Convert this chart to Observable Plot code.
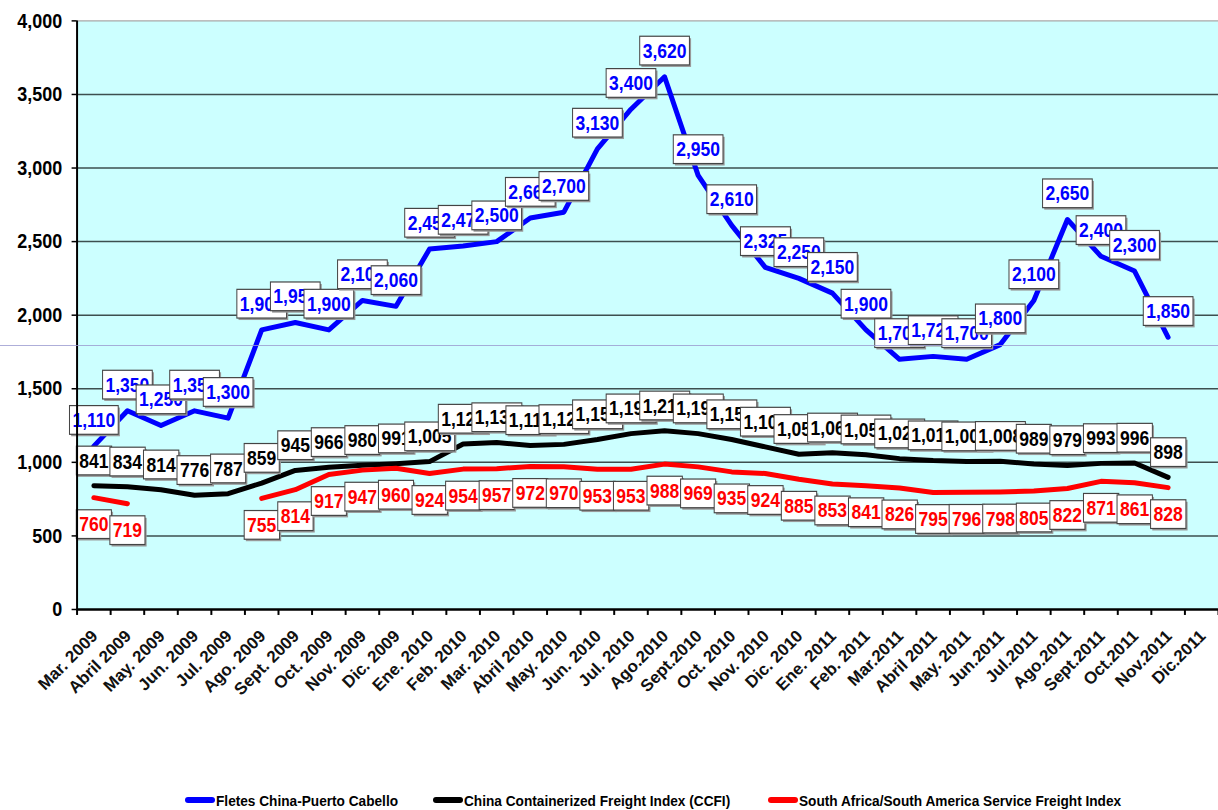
<!DOCTYPE html>
<html><head><meta charset="utf-8">
<script src="https://cdn.jsdelivr.net/npm/d3@7"></script>
<script src="https://cdn.jsdelivr.net/npm/@observablehq/plot@0.6"></script>
<style>
html,body{margin:0;padding:0;background:#fff;overflow:hidden;width:1218px;height:810px}
#wrap{position:relative;width:1218px;height:810px;overflow:hidden}
#chart svg{display:block}
#legend{position:absolute;left:0;top:788px;width:1218px;height:24px;font-family:"Liberation Sans",Arial,sans-serif;font-weight:bold;font-size:15px;color:#000}
.item{position:absolute;top:0;height:24px;display:flex;align-items:center;white-space:nowrap}
.sw{display:inline-block;width:30px;height:6px;border-radius:3px;margin-right:1px}
.tx{display:inline-block;transform:scaleX(0.91);transform-origin:left center}
#artifact{position:absolute;left:0;top:345px;width:1218px;height:1px;background:#9a9ad0;opacity:0.8;pointer-events:none}
</style></head><body><div id="wrap"><div id="chart"></div><div id="legend"></div><div id="artifact"></div></div>
<script>
const months = ["Mar. 2009","Abril 2009","May. 2009","Jun. 2009","Jul. 2009","Ago. 2009","Sept. 2009","Oct. 2009","Nov. 2009","Dic. 2009",
"Ene. 2010","Feb. 2010","Mar. 2010","Abril 2010","May. 2010","Jun. 2010","Jul. 2010","Ago.2010","Sept.2010","Oct. 2010","Nov. 2010","Dic. 2010",
"Ene. 2011","Feb. 2011","Mar.2011","Abril 2011","May. 2011","Jun.2011","Jul.2011","Ago.2011","Sept.2011","Oct.2011","Nov.2011","Dic.2011"];
const fletes = [1110,1350,1250,1350,1300,1900,1950,1900,2100,2060,2450,2470,2500,2660,2700,3130,3400,3620,2950,2610,2325,2250,2150,1900,1700,1720,1700,1800,2100,2650,2400,2300,1850];
const ccfi = [841,834,814,776,787,859,945,966,980,991,1005,1125,1135,1115,1122,1155,1195,1215,1195,1155,1105,1055,1065,1052,1025,1012,1005,1008,989,979,993,996,898];
const safi = [760,719,null,null,null,755,814,917,947,960,924,954,957,972,970,953,953,988,969,935,924,885,853,841,826,795,796,798,805,822,871,861,828];
const seriesNames = ["Fletes China-Puerto Cabello","China Containerized Freight Index (CCFI)","South Africa/South America Service Freight Index"];
const seriesColors = ["#0000FF","#000000","#FF0000"];
const yTicks = [0,500,1000,1500,2000,2500,3000,3500,4000];

const mk = arr => arr.map((v,i)=>({x:i+0.5, v}));
const dF = mk(fletes), dC = mk(ccfi), dS = mk(safi);
const fmt = d3.format(",");
const font = '"Liberation Sans",Arial,sans-serif';
const lbl = (data, color, dy) => Plot.text(data.filter(d=>d.v!=null), {x:"x", y:"v", text:d=>fmt(d.v), dy, fill:color, fontSize:21, fontWeight:"bold", fontFamily:font, textAnchor:"middle", lineAnchor:"middle", ariaDescription:"datalabel"});

const svg = Plot.plot({
  width:1225, height:785,
  marginLeft:77, marginRight:0, marginTop:20.5, marginBottom:172.5,
  x:{type:"linear", domain:[0,34], label:null},
  y:{domain:[0,4000], label:null},
  style:{background:"white", fontFamily:font, color:"black"},
  marks:[
    Plot.frame({fill:"#CCFFFF", stroke:null}),
    Plot.ruleY(yTicks.filter(t=>t>0&&t<4000), {stroke:"#3d4f4f", strokeWidth:1.5}),
    Plot.ruleY([4000], {stroke:"#a8a8a8", strokeWidth:1.2}),
    Plot.line(dF, {x:"x", y:"v", stroke:seriesColors[0], strokeWidth:5, strokeLinejoin:"round"}),
    Plot.line(dC, {x:"x", y:"v", stroke:seriesColors[1], strokeWidth:5, strokeLinejoin:"round"}),
    Plot.line(dS, {x:"x", y:"v", stroke:seriesColors[2], strokeWidth:5, strokeLinejoin:"round"}),
    lbl(dF, seriesColors[0], -26),
    lbl(dC, seriesColors[1], -25),
    lbl(dS, seriesColors[2], 27),
    Plot.ruleX([0], {stroke:"black", strokeWidth:2}),
    Plot.ruleY([0], {stroke:"black", strokeWidth:2.5}),
    Plot.axisY({ticks:yTicks, tickFormat:fmt, tickSize:5, tickPadding:10, fontSize:21, fontWeight:"bold", strokeWidth:1.5, label:null}),
    Plot.axisX({ticks:d3.range(35), tickSize:6, tickFormat:()=>"", strokeWidth:2, label:null}),
    Plot.axisX({ticks:d3.range(34).map(i=>i+0.5), tickSize:0, tickPadding:24, tickRotate:-45, dx:1, fontSize:17, fontWeight:"bold", fill:"#111", label:null, tickFormat:d=>months[Math.round(d-0.5)]})
  ]
});
document.getElementById("chart").append(svg);

const NS = "http://www.w3.org/2000/svg";
// horizontally narrow a text about a pivot (0 = left, 0.5 = centre, 1 = right of its box), without moving it
function squeeze(t, s, pivot) {
  const bb = t.getBBox();
  const px = bb.x + bb.width * pivot;
  const tr = t.getAttribute("transform") || "";
  t.setAttribute("transform", `${tr} translate(${px},0) scale(${s},1) translate(${-px},0)`);
}
svg.querySelectorAll('g[aria-label="y-axis tick label"] text').forEach(t=>squeeze(t, 0.86, 1));
// boxes behind data labels
svg.querySelectorAll('g[aria-description="datalabel"]').forEach(g=>{
  g.querySelectorAll("text").forEach(t=>{
    squeeze(t, 0.84, 0.5);
    const bb = t.getBBox();
    const tr = t.getAttribute("transform") || "";
    const px=3.5, py=3;
    const sh = document.createElementNS(NS,"rect");
    sh.setAttribute("x", bb.x-px+2); sh.setAttribute("y", bb.y-py+2);
    sh.setAttribute("width", bb.width+2*px); sh.setAttribute("height", bb.height+2*py);
    sh.setAttribute("fill","#999");
    const r = document.createElementNS(NS,"rect");
    r.setAttribute("x", bb.x-px); r.setAttribute("y", bb.y-py);
    r.setAttribute("width", bb.width+2*px); r.setAttribute("height", bb.height+2*py);
    r.setAttribute("fill","white"); r.setAttribute("stroke","#444"); r.setAttribute("stroke-width","1.2");
    if (tr) { sh.setAttribute("transform", tr); r.setAttribute("transform", tr); }
    g.insertBefore(sh, t); g.insertBefore(r, t);
  });
});

// legend
const legend = document.getElementById("legend");
const lefts = [185, 433, 768];
seriesNames.forEach((n,i)=>{
  const it = document.createElement("div");
  it.className="item"; it.style.left = lefts[i]+"px";
  const sw = document.createElement("span"); sw.className="sw"; sw.style.background = seriesColors[i];
  const tx = document.createElement("span"); tx.className="tx"; tx.textContent = n;
  it.append(sw, tx); legend.append(it);
});
</script></body></html>
